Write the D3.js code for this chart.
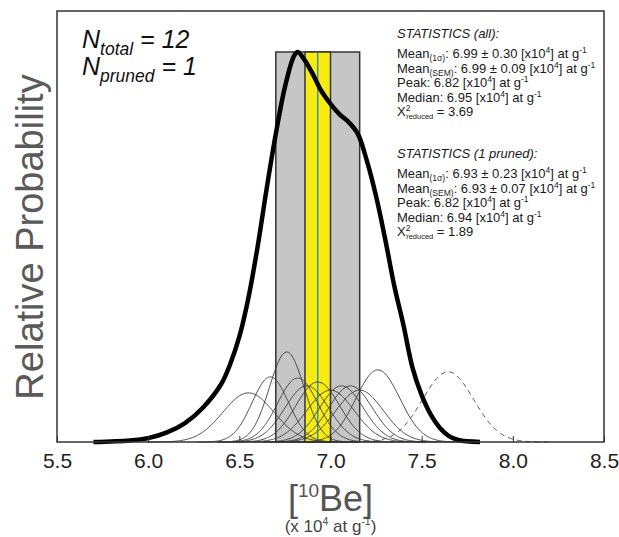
<!DOCTYPE html>
<html>
<head>
<meta charset="utf-8">
<script src="https://cdn.jsdelivr.net/npm/d3@7"></script>
<style>
  html, body { margin: 0; padding: 0; background: #fff; }
  svg { display: block; }
  text { font-family: "Liberation Sans", Arial, sans-serif; }
</style>
</head>
<body>
<svg id="chart" width="619" height="537"></svg>
<script>
// ---------------- DATA ----------------
const xTicks = [5.5, 6.0, 6.5, 7.0, 7.5, 8.0, 8.5];

// individual sample probability curves (mean, 1σ, relative peak height)
const sampleMeans  = [6.55, 6.67, 6.76, 6.82, 6.87, 6.93, 7.00, 7.06, 7.11, 7.16, 7.26, 7.645];
const sampleSigmas = [0.14, 0.10, 0.095, 0.11, 0.12, 0.12, 0.13, 0.12, 0.12, 0.13, 0.12, 0.14];
const samplePeaks  = [0.126, 0.167, 0.231, 0.164, 0.144, 0.154, 0.133, 0.144, 0.144, 0.133, 0.185, 0.18];
const samplePruned = [false, false, false, false, false, false, false, false, false, false, false, true];

// summed probability curve
const sumX = [5.70, 5.90, 6.00, 6.10, 6.20, 6.30, 6.40, 6.45, 6.50, 6.55, 6.60, 6.65, 6.70, 6.75, 6.80, 6.82,
              6.85, 6.90, 6.95, 7.00, 7.05, 7.10, 7.15, 7.20, 7.25, 7.30, 7.35, 7.40, 7.45, 7.50, 7.55, 7.60, 7.65, 7.70, 7.82];
const sumY = [0.0, 0.004, 0.01, 0.024, 0.048, 0.088, 0.148, 0.20, 0.27, 0.37, 0.50, 0.65, 0.79, 0.91, 0.99, 1.0,
              0.985, 0.946, 0.90, 0.867, 0.84, 0.82, 0.79, 0.72, 0.63, 0.52, 0.40, 0.30, 0.19, 0.12, 0.07, 0.036, 0.015, 0.005, 0.0];

// statistics [all, 1 pruned]
const statTitles = ["STATISTICS (all):", "STATISTICS (1 pruned):"];
const statMean   = [6.99, 6.93];
const statSD     = [0.30, 0.23];
const statSEM    = [0.09, 0.07];
const statPeak   = [6.82, 6.82];
const statMedian = [6.95, 6.94];
const statChi2   = [3.69, 1.89];
const nTotal = 12, nPruned = 1;

// ---------------- CHART ----------------
const svg = d3.select("#chart");
const x = d3.scaleLinear().domain([5.5, 8.5]).range([57, 604]);
const y = d3.scaleLinear().domain([0, 1]).range([442, 52]);

// bands (pruned statistics)
const pm = statMean[1];
svg.append("rect")
  .attr("x", x(pm - statSD[1])).attr("y", y(1))
  .attr("width", x(pm + statSD[1]) - x(pm - statSD[1]))
  .attr("height", y(0) - y(1))
  .attr("fill", "#c6c6c6").attr("stroke", "#333").attr("stroke-width", 1.5);
svg.append("rect")
  .attr("x", x(pm - statSEM[1])).attr("y", y(1))
  .attr("width", x(pm + statSEM[1]) - x(pm - statSEM[1]))
  .attr("height", y(0) - y(1))
  .attr("fill", "#f6ec12").attr("stroke", "#333").attr("stroke-width", 1.5);
svg.append("line")
  .attr("x1", x(pm)).attr("x2", x(pm)).attr("y1", y(1)).attr("y2", y(0))
  .attr("stroke", "#2a78c0").attr("stroke-width", 1.2);

// individual curves
const thinLine = d3.line().x(d => x(d[0])).y(d => y(d[1])).curve(d3.curveBasis);
sampleMeans.forEach((m, i) => {
  const s = sampleSigmas[i], p = samplePeaks[i];
  const pts = d3.range(m - 4 * s, m + 4 * s + 1e-9, s / 20).map(v => [v, p * Math.exp(-0.5 * ((v - m) / s) ** 2)]);
  svg.append("path")
    .attr("d", thinLine(pts))
    .attr("fill", "none")
    .attr("stroke", samplePruned[i] ? "#555" : "#3a3a3a")
    .attr("stroke-width", samplePruned[i] ? 1 : 0.9)
    .attr("stroke-dasharray", samplePruned[i] ? "5,4" : null);
});

// summed curve
const thickLine = d3.line().x((d, i) => x(sumX[i])).y(d => y(d)).curve(d3.curveCatmullRom.alpha(0.5));
svg.append("path")
  .attr("d", thickLine(sumY))
  .attr("fill", "none").attr("stroke", "#000").attr("stroke-width", 4.5)
  .attr("stroke-linejoin", "round").attr("stroke-linecap", "butt");

// axis
const axis = d3.axisBottom(x).tickValues(xTicks).tickSize(-6).tickPadding(11).tickFormat(d3.format(".1f"));
const ax = svg.append("g").attr("transform", `translate(0,${y(0)})`).call(axis);
ax.select(".domain").remove();
ax.selectAll(".tick line").attr("stroke", "#333").attr("stroke-width", 1);
ax.selectAll(".tick text").attr("font-size", 21).attr("fill", "#222")
  .attr("font-family", "'Liberation Sans', Arial, sans-serif");

// frame
svg.append("rect").attr("x", 57).attr("y", 11).attr("width", 604 - 57).attr("height", 442 - 11)
  .attr("fill", "none").attr("stroke", "#333").attr("stroke-width", 1.5);

// y label
svg.append("text")
  .attr("transform", "translate(43,237) rotate(-90)")
  .attr("text-anchor", "middle").attr("font-size", 38).attr("fill", "#5a5a5a")
  .text("Relative Probability");

// x label
const xl = svg.append("text").attr("x", x(7.0)).attr("y", 511).attr("text-anchor", "middle")
  .attr("fill", "#555");
xl.append("tspan").attr("font-size", 36).text("[");
xl.append("tspan").attr("font-size", 19).attr("dy", -14).text("10");
xl.append("tspan").attr("font-size", 36).attr("dy", 14).text("Be]");
const xl2 = svg.append("text").attr("x", x(7.0)).attr("y", 532).attr("text-anchor", "middle")
  .attr("fill", "#444").attr("font-size", 17);
xl2.append("tspan").text("(x 10");
xl2.append("tspan").attr("font-size", 10.5).attr("dy", -7).text("4");
xl2.append("tspan").attr("dy", 7).text(" at g");
xl2.append("tspan").attr("font-size", 10.5).attr("dy", -7).text("-1");
xl2.append("tspan").attr("dy", 7).text(")");

// N text
function nLabel(yb, sub, val) {
  const t = svg.append("text").attr("x", 82).attr("y", yb).attr("font-style", "italic").attr("fill", "#111");
  t.append("tspan").attr("font-size", 25).text("N");
  t.append("tspan").attr("font-size", 17.5).attr("dy", 7).text(sub);
  t.append("tspan").attr("font-size", 25).attr("dy", -7).text(" = " + val);
}
nLabel(48, "total", nTotal);
nLabel(75, "pruned", nPruned);

// statistics blocks
const fs = 13, fsS = 8.5;
function statLine(x0, yb, parts) {
  const t = svg.append("text").attr("x", x0).attr("y", yb).attr("font-size", fs).attr("fill", "#1a1a1a");
  let off = 0;
  parts.forEach(([txt, kind]) => {
    const target = kind === "sub" ? 3 : kind === "sup" ? -5 : 0;
    t.append("tspan").attr("dy", target - off).attr("font-size", kind === "n" ? fs : fsS).text(txt);
    off = target;
  });
  return t;
}
const f2 = d3.format(".2f");
[0, 1].forEach(k => {
  const y0 = 38 + k * 120, x0 = 397;
  svg.append("text").attr("x", x0).attr("y", y0).attr("font-size", fs).attr("font-style", "italic")
    .attr("fill", "#1a1a1a").text(statTitles[k]);
  statLine(x0, y0 + 20, [["Mean", "n"], ["(1σ)", "sub"], [`: ${f2(statMean[k])} ± ${f2(statSD[k])} [x10`, "n"], ["4", "sup"], ["] at g", "n"], ["-1", "sup"]]);
  statLine(x0, y0 + 34.5, [["Mean", "n"], ["(SEM)", "sub"], [`: ${f2(statMean[k])} ± ${f2(statSEM[k])} [x10`, "n"], ["4", "sup"], ["] at g", "n"], ["-1", "sup"]]);
  statLine(x0, y0 + 49, [[`Peak: ${f2(statPeak[k])} [x10`, "n"], ["4", "sup"], ["] at g", "n"], ["-1", "sup"]]);
  statLine(x0, y0 + 63.5, [[`Median: ${f2(statMedian[k])} [x10`, "n"], ["4", "sup"], ["] at g", "n"], ["-1", "sup"]]);
  statLine(x0, y0 + 78, [["X", "n"], ["2", "sup"]]);
  const xw = svg.append("text").attr("font-size", fs).text("X");
  const wX = xw.node().getComputedTextLength(); xw.remove();
  const cr = svg.append("text").attr("x", x0 + wX + 0.5).attr("y", y0 + 80.5).attr("font-size", 7.5).attr("fill", "#1a1a1a").text("reduced");
  const wr = cr.node().getComputedTextLength();
  svg.append("text").attr("x", x0 + wX + wr + 4).attr("y", y0 + 78).attr("font-size", fs).attr("fill", "#1a1a1a")
    .text(`= ${f2(statChi2[k])}`);
});
</script>
</body>
</html>
